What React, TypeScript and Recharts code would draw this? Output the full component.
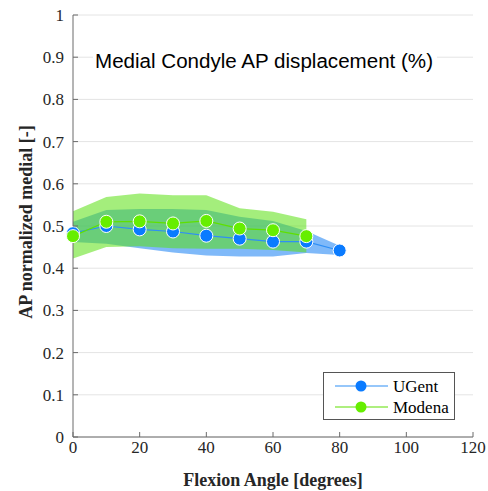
import { ComposedChart, Area, Line, XAxis, YAxis, CartesianGrid, Customized } from 'recharts';

const ANGLES = [0, 10, 20, 30, 40, 50, 60, 70, 80];
const UGENT_MEAN = [0.483, 0.5, 0.492, 0.487, 0.477, 0.47, 0.463, 0.463, 0.442];
const UGENT_UPPER = [0.51, 0.538, 0.54, 0.54, 0.538, 0.522, 0.512, 0.488, 0.453];
const UGENT_LOWER = [0.462, 0.458, 0.447, 0.437, 0.43, 0.428, 0.428, 0.436, 0.431];
const MODENA_MEAN = [0.476, 0.51, 0.511, 0.506, 0.512, 0.494, 0.49, 0.476];
const MODENA_UPPER = [0.535, 0.569, 0.577, 0.573, 0.573, 0.542, 0.534, 0.516];
const MODENA_LOWER = [0.423, 0.45, 0.452, 0.447, 0.446, 0.446, 0.443, 0.437];
const X_TICKS = [0, 20, 40, 60, 80, 100, 120];
const Y_TICKS = [0, 0.1, 0.2, 0.3, 0.4, 0.5, 0.6, 0.7, 0.8, 0.9, 1];

const AXIS = '#6b6b6b';
const SERIF = "'Liberation Serif', 'Times New Roman', serif";
const BLUE = '#0a7bff';
const BLUE_LINE = '#2f8ff5';
const BLUE_FILL = '#167ff4';
const GREEN = '#66ee00';
const GREEN_LINE = '#5fe000';
const GREEN_FILL = '#5ae010';

const data = ANGLES.map((a, i) => ({
  angle: a,
  ugent: UGENT_MEAN[i],
  ugentBand: [UGENT_LOWER[i], UGENT_UPPER[i]],
  modena: MODENA_MEAN[i] ?? null,
  modenaBand: MODENA_MEAN[i] != null ? [MODENA_LOWER[i], MODENA_UPPER[i]] : null,
}));

const fmt = (v: number) => (v === 0 || v === 1 ? String(v) : v.toFixed(1));

const LeftTick = ({ x, y, payload }: any) => (
  <g>
    <line x1={x} x2={x + 5} y1={y} y2={y} stroke={AXIS} />
    <text x={x - 9} y={y + 6} textAnchor="end" fontFamily={SERIF} fontSize={17} fill="#262626">
      {fmt(payload.value)}
    </text>
  </g>
);
const RightTick = ({ x, y }: any) => <line x1={x} x2={x - 5} y1={y} y2={y} stroke={AXIS} />;
const BottomTick = ({ x, y, payload }: any) => (
  <g>
    <line x1={x} x2={x} y1={y} y2={y - 5} stroke={AXIS} />
    <text x={x} y={y + 16} textAnchor="middle" fontFamily={SERIF} fontSize={17} fill="#262626">
      {payload.value}
    </text>
  </g>
);
const TopTick = ({ x, y }: any) => <line x1={x} x2={x} y1={y} y2={y + 5} stroke={AXIS} />;

const dot = (fill: string) => ({ r: 6.5, fill, stroke: '#fff', strokeWidth: 1, fillOpacity: 1 });

const Overlay = () => (
  <g>
    <rect x={93} y={50} width={344} height={24} fill="#fff" />
    <text x={95} y={68} fontFamily="'Liberation Sans', Arial, sans-serif" fontSize={20} fill="#000"
      textLength={338} lengthAdjust="spacingAndGlyphs">
      Medial Condyle AP displacement (%)
    </text>
    <text transform="translate(32,222) rotate(-90)" textAnchor="middle" fontFamily={SERIF}
      fontSize={18} fontWeight="bold" fill="#262626">
      AP normalized medial [-]
    </text>
    <text x={273} y={486} textAnchor="middle" fontFamily={SERIF} fontSize={18} fontWeight="bold" fill="#262626">
      Flexion Angle [degrees]
    </text>
    <rect x={323.5} y={372.5} width={131} height={47} fill="#fff" stroke="#555" strokeWidth={1} />
    <line x1={335} x2={388} y1={386} y2={386} stroke={BLUE_LINE} strokeWidth={1.2} />
    <circle cx={361} cy={386} r={5.5} fill={BLUE} />
    <text x={393} y={392} fontFamily={SERIF} fontSize={17} fill="#000">UGent</text>
    <line x1={335} x2={388} y1={407} y2={407} stroke={GREEN_LINE} strokeWidth={1.2} />
    <circle cx={361} cy={407} r={5.5} fill={GREEN} />
    <text x={393} y={413} fontFamily={SERIF} fontSize={17} fill="#000">Modena</text>
  </g>
);

export default function App() {
  return (
    <div style={{ position: 'absolute', left: 0, top: 0, width: 488, height: 491, background: '#fff' }}>
      <ComposedChart width={488} height={491} data={data} margin={{ top: 15, right: 15, bottom: 0, left: 0 }}>
        <CartesianGrid vertical={false} stroke="#e4e4e4" />
        <XAxis dataKey="angle" type="number" domain={[0, 120]} ticks={X_TICKS} height={54}
          tickSize={0} tickMargin={0} tick={<BottomTick />} stroke={AXIS} interval={0} />
        <XAxis xAxisId="top" orientation="top" dataKey="angle" type="number" domain={[0, 120]} ticks={X_TICKS}
          height={0} tickSize={0} tickMargin={0} tick={<TopTick />} stroke={AXIS} interval={0} />
        <YAxis type="number" domain={[0, 1]} ticks={Y_TICKS} width={73} tickSize={0} tickMargin={0}
          tick={<LeftTick />} stroke={AXIS} interval={0} />
        <YAxis yAxisId="right" orientation="right" type="number" domain={[0, 1]} ticks={Y_TICKS} width={0}
          tickSize={0} tickMargin={0} tick={<RightTick />} stroke={AXIS} interval={0} />
        <Area dataKey="ugentBand" type="linear" stroke="none" fill={BLUE_FILL} fillOpacity={0.55}
          isAnimationActive={false} activeDot={false} />
        <Area dataKey="modenaBand" type="linear" stroke="none" fill={GREEN_FILL} fillOpacity={0.55}
          isAnimationActive={false} activeDot={false} />
        <Line dataKey="ugent" type="linear" stroke={BLUE_LINE} strokeWidth={1.2} dot={dot(BLUE)}
          isAnimationActive={false} activeDot={false} />
        <Line dataKey="modena" type="linear" stroke={GREEN_LINE} strokeWidth={1.2} dot={dot(GREEN)}
          isAnimationActive={false} activeDot={false} />
        <Customized component={Overlay} />
      </ComposedChart>
    </div>
  );
}
